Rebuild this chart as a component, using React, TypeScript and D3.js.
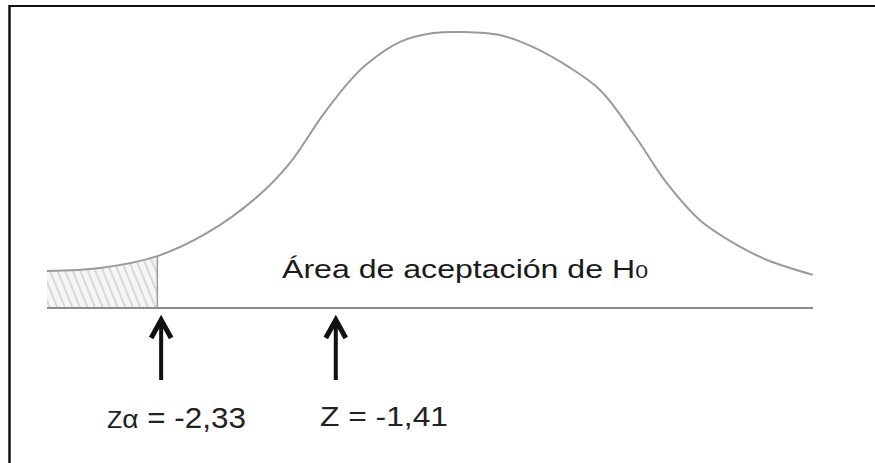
import React, { useEffect, useRef } from "react";
import * as d3 from "d3";

// sketch coordinates: x runs 0..100 along the baseline, y is height in % of the peak
const curveX = [0, 6.9, 14.4, 20.9, 27.4, 31.7, 36.0, 39.6, 41.8, 46.1, 50.4, 54.3, 59.1, 63.4, 67.9, 72.2, 76.5, 80.9, 85.2, 89.6, 94.0, 100];
const curveY = [13.4, 14.5, 18.8, 27.2, 40.2, 52.5, 69.9, 82.5, 88.5, 96.4, 99.6, 100, 98.9, 94.6, 87.7, 79, 63.4, 45.3, 31.9, 23.6, 17.4, 12];

// where the critical value and the test statistic sit along the baseline
const markerNames = ["alpha", "stat"];
const markerPos = [14.9, 37.7];
const criticalPos = 14.4;

const regionLabel = "Área de aceptación de H";
const regionSub = "0";

const W = 875;
const H = 463;

export default function App() {
  const ref = useRef<SVGSVGElement>(null);

  useEffect(() => {
    const svg = d3.select(ref.current);
    svg.selectAll("*").remove();

    const x = d3.scaleLinear().domain([0, 100]).range([47, 813]);
    const y = d3.scaleLinear().domain([0, 100]).range([308, 32]);

    const pts = curveX.map((v, i) => ({ x: v, y: curveY[i] }));

    // frame (only top and left edges show)
    svg.append("line").attr("x1", 9).attr("x2", W).attr("y1", 6).attr("y2", 6)
      .attr("stroke", "#111").attr("stroke-width", 2);
    svg.append("line").attr("x1", 9.5).attr("x2", 9.5).attr("y1", 5).attr("y2", H)
      .attr("stroke", "#111").attr("stroke-width", 2.5);

    // hatch pattern for the rejection tail
    const defs = svg.append("defs");
    const pat = defs.append("pattern")
      .attr("id", "hatch")
      .attr("patternUnits", "userSpaceOnUse")
      .attr("width", 7)
      .attr("height", 7)
      .attr("patternTransform", "rotate(-22)");
    pat.append("rect").attr("width", 7).attr("height", 7).attr("fill", "#f5f5f5");
    pat.append("line").attr("x1", 1).attr("x2", 1).attr("y1", 0).attr("y2", 7)
      .attr("stroke", "#c8c8c8").attr("stroke-width", 1.3);

    const curve = d3.curveCatmullRom.alpha(0.5);

    const area = d3.area<{ x: number; y: number }>()
      .x(d => x(d.x))
      .y0(y(0))
      .y1(d => y(d.y))
      .curve(curve);

    defs.append("clipPath").attr("id", "tail")
      .append("rect")
      .attr("x", x(0)).attr("y", 0)
      .attr("width", x(criticalPos) - x(0)).attr("height", H);

    svg.append("path")
      .datum(pts)
      .attr("d", area)
      .attr("fill", "url(#hatch)")
      .attr("clip-path", "url(#tail)");

    // the curve
    const line = d3.line<{ x: number; y: number }>()
      .x(d => x(d.x))
      .y(d => y(d.y))
      .curve(curve);

    svg.append("path")
      .datum(pts)
      .attr("d", line)
      .attr("fill", "none")
      .attr("stroke", "#9a9a9a")
      .attr("stroke-width", 2);

    // baseline
    svg.append("line")
      .attr("x1", x(0)).attr("x2", x(100))
      .attr("y1", y(0)).attr("y2", y(0))
      .attr("stroke", "#8c8c8c").attr("stroke-width", 2);

    // critical value divider
    const critY = d3.scaleLinear().domain(curveX).range(curveY)(criticalPos);
    svg.append("line")
      .attr("x1", x(criticalPos)).attr("x2", x(criticalPos))
      .attr("y1", y(critY)).attr("y2", y(0))
      .attr("stroke", "#999").attr("stroke-width", 1.5);

    // arrows
    const arrows = svg.append("g").attr("stroke", "#111").attr("fill", "none");
    markerNames.forEach((name, i) => {
      const cx = x(markerPos[i]);
      arrows.append("line")
        .attr("x1", cx).attr("x2", cx).attr("y1", 322).attr("y2", 380)
        .attr("stroke-width", 4);
      arrows.append("path")
        .attr("d", `M${cx - 10},338 L${cx},320 L${cx + 10},338`)
        .attr("stroke-width", 5)
        .attr("stroke-linejoin", "miter");
    });

    const font = "'Liberation Sans', Arial, sans-serif";

    // region label
    const t = svg.append("text")
      .attr("x", 282).attr("y", 278)
      .attr("font-family", font)
      .attr("font-size", 25)
      .attr("fill", "#1a1a1a")
      .attr("textLength", 366)
      .attr("lengthAdjust", "spacingAndGlyphs");
    t.append("tspan").text(regionLabel);
    t.append("tspan").attr("font-size", 18).text(regionSub);

    // critical value label
    const l1 = svg.append("text")
      .attr("x", 107).attr("y", 428)
      .attr("font-family", font)
      .attr("fill", "#222")
      .attr("textLength", 139)
      .attr("lengthAdjust", "spacingAndGlyphs");
    l1.append("tspan").attr("font-size", 23).text("Z");
    l1.append("tspan").attr("font-size", 26).text("α");
    l1.append("tspan").attr("font-size", 29).text(" = -2,33");

    // statistic label
    svg.append("text")
      .attr("x", 320).attr("y", 426)
      .attr("font-family", font)
      .attr("font-size", 28)
      .attr("fill", "#222")
      .attr("textLength", 128)
      .attr("lengthAdjust", "spacingAndGlyphs")
      .text("Z = -1,41");
  }, []);

  return (
    <svg
      ref={ref}
      width={W}
      height={H}
      style={{ position: "absolute", left: 0, top: 0, background: "#fff", display: "block" }}
    />
  );
}
